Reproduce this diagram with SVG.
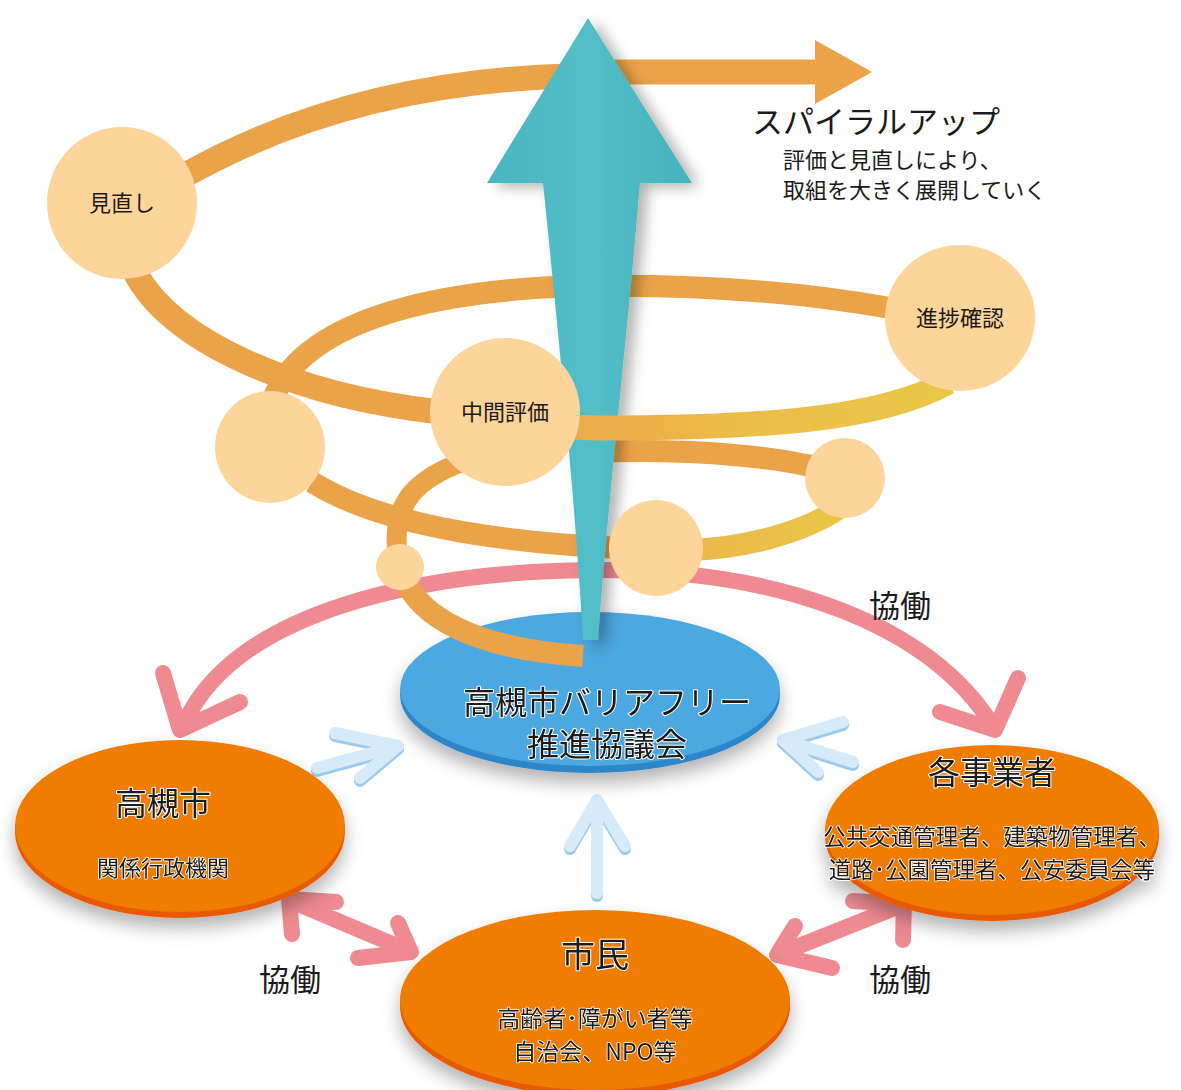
<svg xmlns="http://www.w3.org/2000/svg" width="1181" height="1090" viewBox="0 0 1181 1090">
<defs>
<style>
text{font-family:"Noto Sans CJK JP","Noto Sans",sans-serif;fill:#1a1a1a}
.band{fill:none;stroke:#EBA34A;stroke-width:24;stroke-linecap:butt}
.peach{fill:#FDD49A}
.lbl{font-size:22px;text-anchor:middle}
.big{font-size:32px;text-anchor:middle;stroke:#fff;stroke-width:2;paint-order:stroke;stroke-linejoin:round}
.sub{font-size:22px;text-anchor:middle;stroke:#fff;stroke-width:1.6;paint-order:stroke;stroke-linejoin:round}
.kyo{font-size:31px;text-anchor:middle}
.pink{fill:none;stroke:#EE8A90;stroke-width:16;stroke-linecap:round;stroke-linejoin:round}
.lb{fill:none;stroke:#D5EBFA;stroke-width:12;stroke-linecap:round;stroke-linejoin:round}
.lbs{fill:none;stroke:#9DCBEF;stroke-width:12;stroke-linecap:round;stroke-linejoin:round}
</style>
<linearGradient id="gPink" gradientUnits="userSpaceOnUse" x1="180" y1="0" x2="1000" y2="0">
<stop offset="0" stop-color="#EE8A90"/><stop offset="0.3" stop-color="#F4B4B6"/><stop offset="0.55" stop-color="#F29EA2"/><stop offset="1" stop-color="#EE8A90"/>
</linearGradient>
<linearGradient id="gYel" gradientUnits="userSpaceOnUse" x1="560" y1="0" x2="950" y2="0">
<stop offset="0" stop-color="#EBA94A"/><stop offset="0.5" stop-color="#EBBE48"/><stop offset="1" stop-color="#E9C746"/>
</linearGradient>
<linearGradient id="gYel2" gradientUnits="userSpaceOnUse" x1="700" y1="0" x2="840" y2="0">
<stop offset="0" stop-color="#EBB84A"/><stop offset="1" stop-color="#E9C746"/>
</linearGradient>
<linearGradient id="gTeal" x1="0" y1="0" x2="1" y2="0">
<stop offset="0" stop-color="#4AB5BF"/><stop offset="0.5" stop-color="#52BEC7"/><stop offset="1" stop-color="#46B2BC"/>
</linearGradient>
<filter id="sh" x="-20%" y="-20%" width="140%" height="150%">
<feDropShadow dx="0" dy="10" stdDeviation="9" flood-color="#000" flood-opacity="0.3"/>
</filter>
<filter id="shT" x="-30%" y="-10%" width="160%" height="120%">
<feDropShadow dx="8" dy="4" stdDeviation="7" flood-color="#000" flood-opacity="0.3"/>
</filter>
</defs>
<rect width="1181" height="1090" fill="#fff"/>

<g id="connectors">
<path class="pink" stroke="url(#gPink)" d="M185,722 C235,615 410,572 590,570 C780,568 930,625 993,726"/>
<polyline class="pink" points="163,673 180,730 240,702"/>
<polyline class="pink" points="940,712 995,730 1018,678"/>
<g transform="translate(0,3)">
<polyline class="lbs" points="317,768 398,746"/><polyline class="lbs" points="335,733 398,746 360,778"/>
<polyline class="lbs" points="853,762 783,740"/><polyline class="lbs" points="843,722 783,740 818,772"/>
<polyline class="lbs" points="597,893 597,800"/><polyline class="lbs" points="570,846 597,800 625,846"/>
</g>
<polyline class="lb" points="317,768 398,746"/><polyline class="lb" points="335,733 398,746 360,778"/>
<polyline class="lb" points="853,762 783,740"/><polyline class="lb" points="843,722 783,740 818,772"/>
<polyline class="lb" points="597,893 597,800"/><polyline class="lb" points="570,846 597,800 625,846"/>
<polyline class="pink" points="291,901 409,951"/>
<polyline class="pink" points="336,902 289,899 292,934"/>
<polyline class="pink" points="398,923 411,952 358,958"/>
<polyline class="pink" points="779,954 902,905"/>
<polyline class="pink" points="795,926 777,955 832,968"/>
<polyline class="pink" points="853,901 904,904 903,940"/>
</g>

<g id="node-kyogikai" filter="url(#sh)">
<ellipse cx="590" cy="695" rx="190" ry="78" fill="#2E85C8"/>
<ellipse cx="590" cy="689" rx="190" ry="77" fill="#4BA8E0"/>
<text class="big" x="607" y="714">高槻市バリアフリー</text>
<text class="big" x="607" y="756">推進協議会</text>
</g>

<g id="node-takatsuki" filter="url(#sh)">
<ellipse cx="180" cy="832" rx="165" ry="86" fill="#E85A00"/>
<ellipse cx="180" cy="826" rx="165" ry="86" fill="#F07C00"/>
<text class="big" x="163" y="815">高槻市</text>
<text class="sub" x="163" y="876">関係行政機関</text>
</g>

<g id="node-jigyosha" filter="url(#sh)">
<ellipse cx="992" cy="836" rx="167" ry="85" fill="#E85A00"/>
<ellipse cx="992" cy="830" rx="167" ry="85" fill="#F07C00"/>
<text class="big" x="992" y="784">各事業者</text>
<text class="sub" x="992" y="845" style="font-size:22.5px">公共交通管理者、建築物管理者、</text>
<text class="sub" x="992" y="878" style="font-size:22.5px">道路･公園管理者、公安委員会等</text>
</g>

<g id="node-shimin" filter="url(#sh)">
<ellipse cx="595" cy="1006" rx="195" ry="90" fill="#E85A00"/>
<ellipse cx="595" cy="1000" rx="195" ry="90" fill="#F07C00"/>
<text class="big" x="595" y="967" style="font-size:34px">市民</text>
<text class="sub" x="595" y="1027" style="font-size:23px">高齢者･障がい者等</text>
<text class="sub" x="595" y="1060" style="font-size:23px">自治会、NPO等</text>
</g>

<g id="labels">
<text class="kyo" x="290" y="991">協働</text>
<text class="kyo" x="900" y="991">協働</text>
<text class="kyo" x="900" y="617">協働</text>
<text x="752" y="133" style="font-size:31px">スパイラルアップ</text>
<text x="783" y="168" style="font-size:22px">評価と見直しにより、</text>
<text x="783" y="198" style="font-size:22px">取組を大きく展開していく</text>
</g>

<g id="spiral">
<path class="band" style="stroke-width:22" d="M890,308 C800,292 700,284 580,286 C430,290 300,322 272,402"/>
<path class="band" style="stroke-width:25" d="M180,178 C290,115 420,80 570,76"/>
<path class="band" style="stroke-width:25" d="M610,72 L820,72"/>
<polygon points="815,40 872,72 815,104" fill="#EBA34A"/>
<path class="band" style="stroke-width:22" d="M590,452 C700,448 790,458 832,472"/>
<path class="band" style="stroke-width:22" d="M312,482 C360,512 450,540 620,548"/>
</g>

<g id="teal-arrow" filter="url(#shT)">
<path d="M588,18 L692,183 L640,183 C626,350 608,500 598,640 L583,640 C575,500 560,350 543,183 L487,183 Z" fill="url(#gTeal)"/>
</g>

<g id="spiral-front">
<path class="band" style="stroke-width:25" d="M135,272 C170,340 290,395 440,412"/>
<path class="band" style="stroke-width:25;stroke:url(#gYel)" d="M440,412 C520,422 560,428 600,428 C760,428 880,420 948,382"/>
<path class="band" style="stroke-width:22;stroke:url(#gYel2)" d="M840,508 C800,535 740,548 690,550"/>
<path class="band" style="stroke-width:20" d="M462,462 C420,478 393,500 397,548"/>
<path class="band" style="stroke-width:22" d="M408,586 C430,625 490,650 583,656"/>
</g>

<g id="node-minaoshi">
<ellipse class="peach" cx="122" cy="203" rx="75" ry="76"/>
<text class="lbl" x="122" y="211">見直し</text>
</g>
<g id="node-shinchoku">
<ellipse class="peach" cx="960" cy="318" rx="75" ry="73"/>
<text class="lbl" x="960" y="326">進捗確認</text>
</g>
<g id="node-chukan">
<ellipse class="peach" cx="505" cy="412" rx="75" ry="74"/>
<text class="lbl" x="505" y="420">中間評価</text>
</g>
<g id="node-c1"><ellipse class="peach" cx="270" cy="447" rx="55" ry="56"/></g>
<g id="node-c2"><ellipse class="peach" cx="845" cy="478" rx="40" ry="40"/></g>
<g id="node-c3"><ellipse class="peach" cx="656" cy="548" rx="47" ry="48"/></g>
<g id="node-c4"><ellipse class="peach" cx="400" cy="567" rx="24" ry="23"/></g>
</svg>
